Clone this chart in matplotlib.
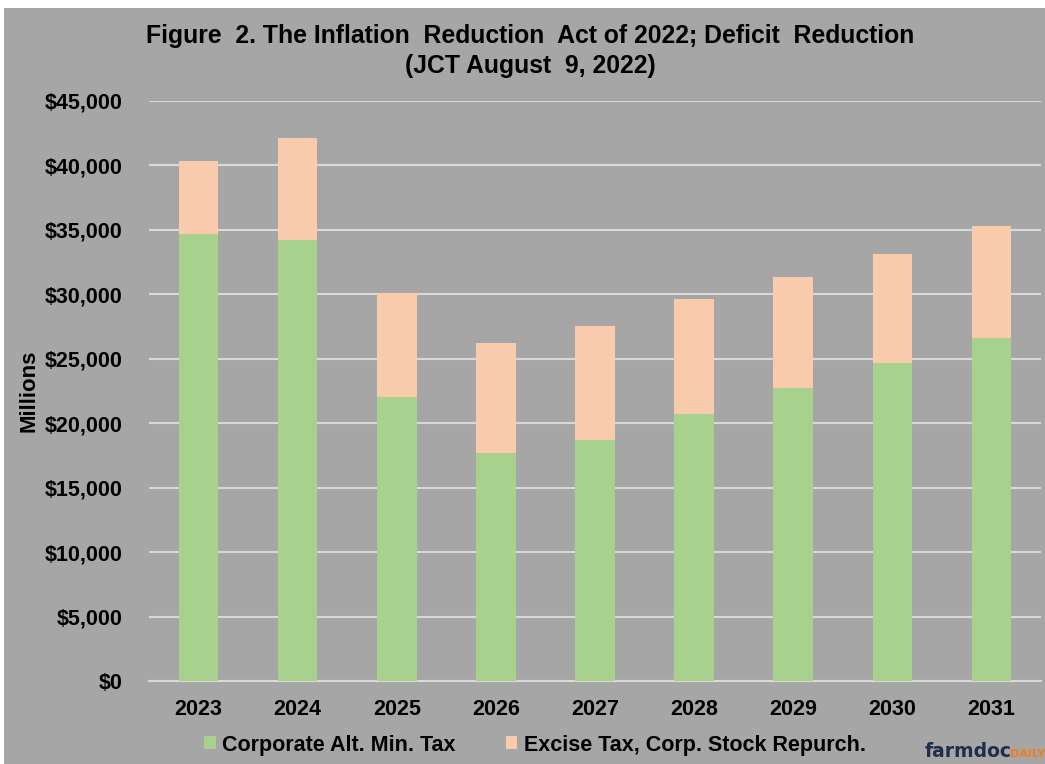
import matplotlib
matplotlib.use("Agg")
import matplotlib.pyplot as plt
from matplotlib.ticker import FuncFormatter
from matplotlib.patches import Rectangle

years = ["2023", "2024", "2025", "2026", "2027", "2028", "2029", "2030", "2031"]
corp_amt = [34700, 34250, 22000, 17700, 18700, 20750, 22750, 24650, 26600]
excise = [5650, 7900, 8100, 8500, 8850, 8900, 8600, 8500, 8700]
series_names = ["Corporate Alt. Min. Tax", "Excise Tax, Corp. Stock Repurch."]
title = "Figure  2. The Inflation  Reduction  Act of 2022; Deficit  Reduction\n(JCT August  9, 2022)"
ylabel = "Millions"

BG = "#A6A6A6"
GREEN = "#A9D18E"
PEACH = "#F8CBAD"
GRID = "#D9D9D9"
FONT = "Liberation Sans"

fig = plt.figure(figsize=(10.45, 7.64), dpi=100)
fig.patch.set_facecolor("white")
fig.patches.append(Rectangle((4 / 1045, 0), 1 - 4 / 1045, 1 - 8 / 764,
                             transform=fig.transFigure, facecolor=BG,
                             edgecolor="none", zorder=-10))

ax = fig.add_axes([149 / 1045, 83 / 764, (1041 - 149) / 1045, (681 - 101) / 764])
ax.set_facecolor(BG)
x = list(range(len(years)))
ax.bar(x, corp_amt, width=0.4, color=GREEN, label=series_names[0], zorder=3)
ax.bar(x, excise, width=0.4, bottom=corp_amt, color=PEACH, label=series_names[1], zorder=3)

ax.set_xlim(-0.5, len(years) - 0.5)
ax.set_ylim(0, 45000)
ax.set_yticks(range(0, 45001, 5000))
ax.yaxis.set_major_formatter(FuncFormatter(lambda v, p: "${:,.0f}".format(v)))
ax.set_xticks(x)
ax.set_xticklabels(years)
ax.grid(axis="y", color=GRID, linewidth=1.5, zorder=0)
ax.set_axisbelow(True)
for s in ["top", "right", "left"]:
    ax.spines[s].set_visible(False)
ax.spines["bottom"].set_color(GRID)
ax.spines["bottom"].set_linewidth(1.5)
ax.tick_params(axis="both", length=0, labelsize=15.5)
ax.tick_params(axis="y", pad=19)
ax.tick_params(axis="x", pad=13)
for lab in ax.get_xticklabels() + ax.get_yticklabels():
    lab.set_fontfamily(FONT)
    lab.set_fontweight("bold")
    lab.set_color("black")

fig.text(29 / 1045, 1 - 391 / 764, ylabel, rotation=90, ha="center", va="center",
         fontsize=16, fontweight="bold", family=FONT)
fig.text(530 / 1045, 1 - 51 / 764, title, ha="center", va="center",
         fontsize=17.8, fontweight="bold", family=FONT, linespacing=1.35)

leg = fig.legend(loc="center", bbox_to_anchor=(535 / 1045, 1 - 745 / 764), ncol=2,
                 frameon=False, prop={"family": FONT, "weight": "bold", "size": 15.5},
                 handlelength=0.55, handleheight=0.55, handletextpad=0.3, columnspacing=2.3)

fig.text(925 / 1045, 1 - 757 / 764, "farmdoc", ha="left", va="baseline",
         fontsize=13.5, fontweight="bold", color="#1F2D4E", family="DejaVu Sans")
fig.text(1010 / 1045, 1 - 757 / 764, "DAILY", ha="left", va="baseline",
         fontsize=8, fontweight="bold", color="#F07D1C", family="DejaVu Sans")

fig.savefig("out.png", dpi=100, facecolor=fig.get_facecolor())
